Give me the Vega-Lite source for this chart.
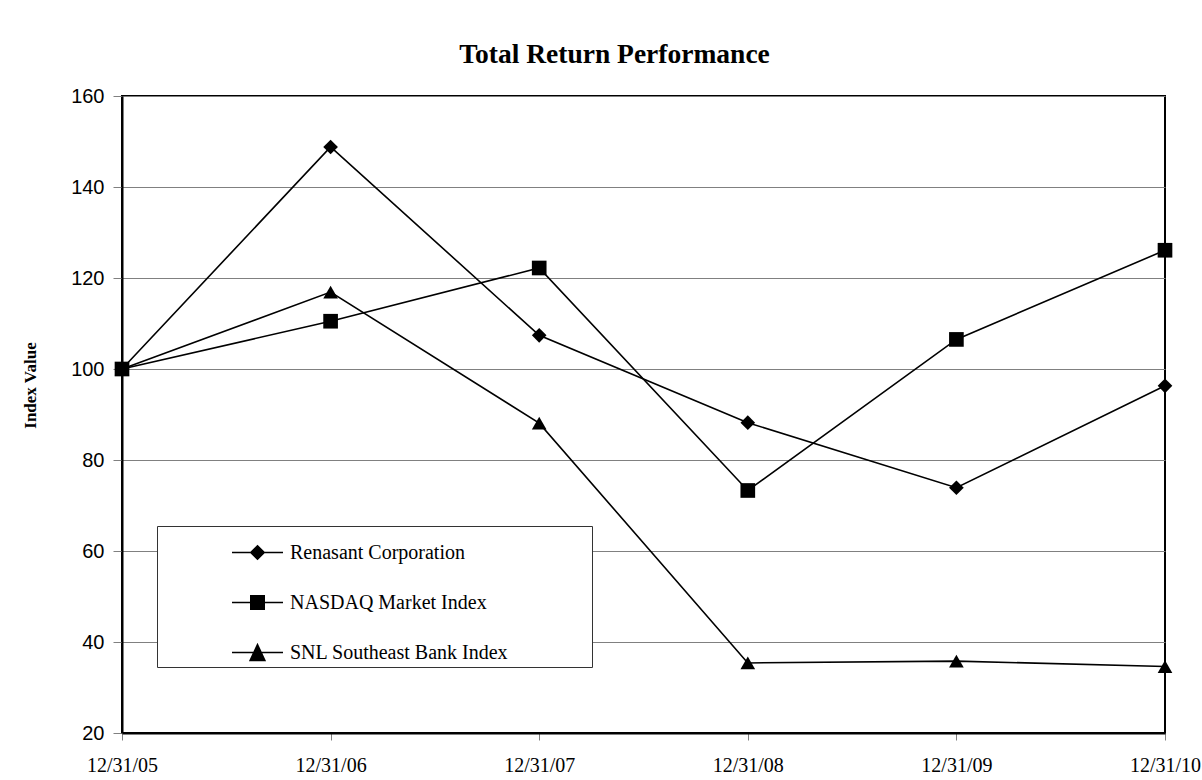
{
  "$schema": "https://vega.github.io/schema/vega-lite/v6.json",
  "width": 1043,
  "height": 637,
  "autosize": {"type": "none"},
  "padding": {"left": 122, "top": 96, "right": 37, "bottom": 47},
  "background": "white",
  "title": {
    "text": "Total Return Performance",
    "font": "Liberation Serif",
    "fontSize": 27.5,
    "fontWeight": "bold",
    "color": "black",
    "anchor": "middle",
    "dx": -29,
    "offset": 18
  },
  "data": {
    "values": [
      {"date": "12/31/05", "series": "Renasant Corporation", "value": 100},
      {"date": "12/31/06", "series": "Renasant Corporation", "value": 148.8},
      {"date": "12/31/07", "series": "Renasant Corporation", "value": 107.4},
      {"date": "12/31/08", "series": "Renasant Corporation", "value": 88.2},
      {"date": "12/31/09", "series": "Renasant Corporation", "value": 73.9},
      {"date": "12/31/10", "series": "Renasant Corporation", "value": 96.3},
      {"date": "12/31/05", "series": "NASDAQ Market Index", "value": 100},
      {"date": "12/31/06", "series": "NASDAQ Market Index", "value": 110.5},
      {"date": "12/31/07", "series": "NASDAQ Market Index", "value": 122.2},
      {"date": "12/31/08", "series": "NASDAQ Market Index", "value": 73.3},
      {"date": "12/31/09", "series": "NASDAQ Market Index", "value": 106.5},
      {"date": "12/31/10", "series": "NASDAQ Market Index", "value": 126.1},
      {"date": "12/31/05", "series": "SNL Southeast Bank Index", "value": 100},
      {"date": "12/31/06", "series": "SNL Southeast Bank Index", "value": 116.9},
      {"date": "12/31/07", "series": "SNL Southeast Bank Index", "value": 88.1},
      {"date": "12/31/08", "series": "SNL Southeast Bank Index", "value": 35.4},
      {"date": "12/31/09", "series": "SNL Southeast Bank Index", "value": 35.8},
      {"date": "12/31/10", "series": "SNL Southeast Bank Index", "value": 34.6}
    ]
  },
  "encoding": {
    "x": {
      "field": "date",
      "type": "ordinal",
      "scale": {"type": "point", "padding": 0},
      "axis": {
        "title": null,
        "labelAngle": 0,
        "labelFont": "Liberation Serif",
        "labelFontSize": 20,
        "labelColor": "black",
        "tickSize": 7,
        "tickColor": "#808080",
        "domainColor": "black",
        "domainWidth": 2,
        "labelPadding": 15,
        "grid": false
      }
    },
    "y": {
      "field": "value",
      "type": "quantitative",
      "scale": {"domain": [20, 160], "nice": false, "zero": false},
      "axis": {
        "title": "Index Value",
        "titleFont": "Liberation Serif",
        "titleFontSize": 17,
        "titleFontWeight": "bold",
        "titleColor": "black",
        "titleAngle": -90,
        "titleX": -92,
        "titleY": 289,
        "titleBaseline": "middle",
        "titleAlign": "center",
        "values": [20, 40, 60, 80, 100, 120, 140, 160],
        "labelFont": "Liberation Sans",
        "labelFontSize": 20,
        "labelColor": "black",
        "tickSize": 9,
        "tickColor": "#808080",
        "grid": true,
        "gridColor": "#808080",
        "gridWidth": 1,
        "domainColor": "black",
        "domainWidth": 2,
        "labelPadding": 9
      }
    }
  },
  "layer": [
    {
      "mark": {"type": "line", "color": "black", "strokeWidth": 1.6},
      "encoding": {"detail": {"field": "series", "type": "nominal"}}
    },
    {
      "mark": {"type": "point", "filled": true, "color": "black", "opacity": 1, "size": 215},
      "encoding": {
        "shape": {
          "field": "series",
          "type": "nominal",
          "scale": {
            "domain": ["Renasant Corporation", "NASDAQ Market Index", "SNL Southeast Bank Index"],
            "range": ["diamond", "square", "triangle-up"]
          },
          "legend": null
        }
      }
    },
    {
      "mark": {"type": "point", "filled": false, "color": "black", "strokeWidth": 1.5, "opacity": 0},
      "encoding": {
        "shape": {
          "field": "series",
          "type": "nominal",
          "scale": {
            "domain": ["Renasant Corporation", "NASDAQ Market Index", "SNL Southeast Bank Index"],
            "range": [
              "M-1.133,0L1.133,0M0,-0.3L0.3,0L0,0.3L-0.3,0ZM-0.05,-0.25L0.05,-0.25M-0.1,-0.2L0.1,-0.2M-0.15,-0.15L0.15,-0.15M-0.2,-0.1L0.2,-0.1M-0.25,-0.05L0.25,-0.05M-0.25,0.05L0.25,0.05M-0.2,0.1L0.2,0.1M-0.15,0.15L0.15,0.15M-0.1,0.2L0.1,0.2M-0.05,0.25L0.05,0.25",
              "M-1.133,0L1.133,0M-0.3,-0.3L0.3,-0.3L0.3,0.3L-0.3,0.3ZM-0.3,-0.25L0.3,-0.25M-0.3,-0.2L0.3,-0.2M-0.3,-0.15L0.3,-0.15M-0.3,-0.1L0.3,-0.1M-0.3,-0.05L0.3,-0.05M-0.3,0.05L0.3,0.05M-0.3,0.1L0.3,0.1M-0.3,0.15L0.3,0.15M-0.3,0.2L0.3,0.2M-0.3,0.25L0.3,0.25",
              "M-1.133,0L1.133,0M0,-0.35L0.33,0.35L-0.33,0.35ZM-0.024,-0.3L0.024,-0.3M-0.047,-0.25L0.047,-0.25M-0.071,-0.2L0.071,-0.2M-0.094,-0.15L0.094,-0.15M-0.118,-0.1L0.118,-0.1M-0.141,-0.05L0.141,-0.05M-0.189,0.05L0.189,0.05M-0.212,0.1L0.212,0.1M-0.236,0.15L0.236,0.15M-0.259,0.2L0.259,0.2M-0.283,0.25L0.283,0.25M-0.306,0.3L0.306,0.3"
            ]
          },
          "legend": {
            "orient": "none",
            "legendX": 35,
            "legendY": 430,
            "title": null,
            "strokeColor": "#333333",
            "fillColor": "white",
            "padding": 3,
            "symbolSize": 2025,
            "symbolOffset": 74,
            "symbolStrokeWidth": 1.5,
            "symbolFillColor": "black",
            "symbolStrokeColor": "black",
            "symbolOpacity": 1,
            "labelFont": "Liberation Serif",
            "labelFontSize": 20,
            "labelColor": "black",
            "labelOffset": 9,
            "labelLimit": 600,
            "rowPadding": 16,
            "labelExpr": "datum.label + '\u2003\u2003\u2003\u2003\u200b'"
          }
        }
      }
    }
  ],
  "resolve": {"scale": {"shape": "independent"}, "legend": {"shape": "independent"}},
  "config": {
    "view": {"stroke": "black", "strokeWidth": 2}
  }
}
